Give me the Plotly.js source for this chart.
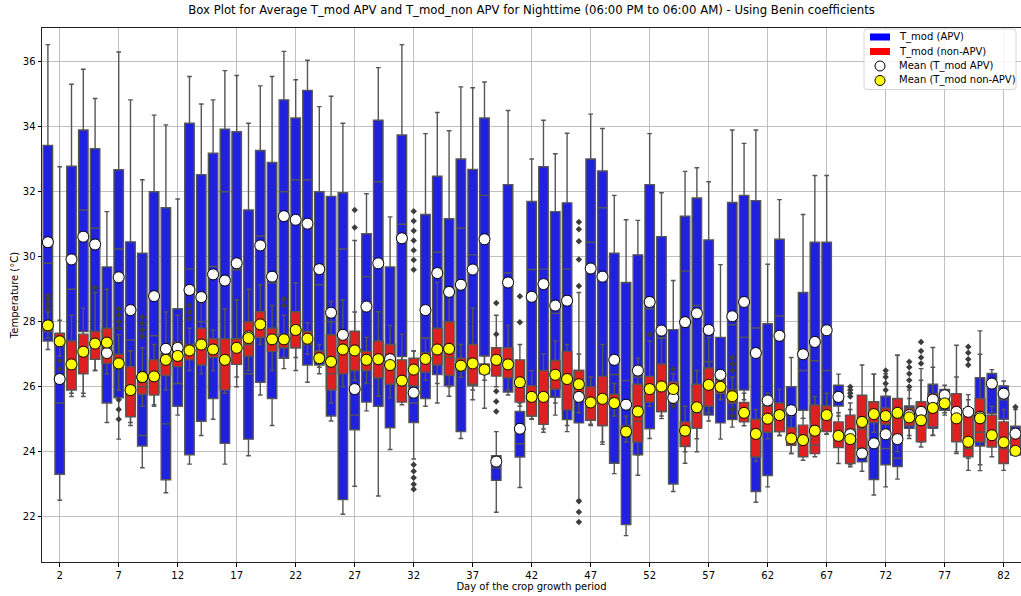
<!DOCTYPE html>
<html>
<head>
<meta charset="utf-8">
<script src="https://cdn.plot.ly/plotly-3.0.1.min.js"></script>
<style>html,body{margin:0;padding:0;background:#fff;}#chart{width:1021px;height:596px;}</style>
</head>
<body>
<div id="chart"></div>
<script>
// Day of the crop growth period
const days = Array.from({length: 83}, (_, i) => i + 1);

// T_mod APV (blue) box statistics per day
const apvLow  = [27.15,22.51,25.8,25.8,26.5,24.9,24.39,24.81,23.51,25.4,22.74,25.13,23.62,24.5,25.0,23.62,26.0,23.88,25.75,24.81,26.56,26.5,26.14,26.4,24.95,22.08,22.94,25.26,22.64,24.07,25.8,23.78,25.4,25.5,25.71,24.41,25.6,25.34,22.14,25.75,22.9,25.02,24.6,25.13,24.62,22.52,24.81,24.23,23.33,21.42,23.28,24.41,25.02,22.78,23.65,24.0,24.95,24.39,24.76,25.6,22.45,22.92,24.5,23.95,25.03,24.0,24.55,25.1,23.6,23.4,22.67,22.92,23.16,24.41,24.3,24.5,25.13,24.0,23.8,23.42,25.0,24.9,24.0];
const apvQ1   = [27.41,23.31,27.0,27.7,27.7,25.5,25.66,25.3,24.18,25.8,23.14,25.4,23.91,24.94,25.64,24.26,26.69,24.39,26.14,25.64,26.88,27.2,26.67,26.67,25.1,22.53,24.68,25.53,25.4,24.74,26.93,24.9,25.64,26.38,26.03,24.62,26.03,26.95,23.12,25.84,23.84,25.1,25.0,25.68,24.99,24.89,24.97,24.81,23.65,21.76,23.91,24.71,25.24,23.01,24.16,24.73,25.13,24.89,24.99,25.9,22.78,23.27,24.62,24.62,25.28,25.0,25.0,25.41,24.1,23.69,23.15,23.6,23.55,24.72,24.7,24.72,25.28,24.5,24.3,24.18,25.18,25.0,24.15];
const apvMed  = [29.8,25.5,29.0,31.44,30.88,26.9,30.24,27.44,24.5,27.57,24.86,26.1,29.63,28.0,29.7,32.0,29.6,26.4,30.64,29.2,32.0,32.37,32.37,29.14,28.0,30.24,25.13,29.39,32.31,26.5,31.0,25.5,27.5,30.14,28.0,30.88,30.06,31.89,23.5,29.5,24.25,29.61,29.62,28.26,29.62,25.8,30.45,31.51,26.38,26.19,26.3,28.4,27.5,25.5,29.56,28.5,26.77,26.0,27.91,27.52,27.81,25.0,28.18,25.3,26.5,26.8,26.5,25.8,24.4,23.95,24.3,24.1,23.8,25.0,25.1,25.5,25.6,25.1,24.9,25.1,26.2,25.6,24.5];
const apvQ3   = [33.43,27.62,32.79,33.9,33.33,29.69,32.68,30.46,30.11,32.0,31.51,28.4,34.11,32.53,33.19,33.93,33.85,31.44,33.27,32.9,34.83,34.27,35.12,32.0,31.86,31.97,27.4,30.71,34.2,29.69,33.75,26.3,31.3,32.48,31.17,33.01,32.69,34.27,23.88,32.22,25.24,31.7,32.77,31.39,31.66,26.5,33.01,32.64,30.11,29.21,30.06,32.22,30.62,27.76,31.25,31.81,30.52,27.52,31.67,31.89,31.73,27.94,30.54,26.0,28.9,30.45,30.45,26.05,24.7,24.4,25.54,25.71,25.0,25.41,25.5,26.08,25.92,25.6,25.33,26.28,26.41,26.03,24.79];
const apvHigh = [36.53,32.77,35.31,35.77,34.87,31.39,36.3,34.83,32.37,34.36,34.06,31.78,35.55,34.7,34.83,35.73,35.58,34.11,35.26,35.55,36.32,35.45,36.05,34.62,34.94,34.11,30.5,31.94,35.82,31.23,36.53,27.1,33.79,34.44,33.88,35.23,35.2,35.38,24.62,34.5,25.5,33.01,34.2,33.17,33.8,28.9,34.39,33.95,31.89,31.14,31.12,33.79,31.97,29.27,32.63,32.74,32.31,29.76,33.9,33.49,33.9,29.77,31.76,26.9,31.3,32.5,32.5,26.39,25.3,25.0,26.39,26.4,26.97,25.9,26.2,27.21,26.05,26.3,25.76,27.72,26.53,26.18,25.3];
const apvMean = [30.45,26.24,29.92,30.62,30.38,27.04,29.37,28.36,26.3,28.79,27.17,27.2,28.98,28.76,29.46,29.27,29.8,27.55,30.35,29.39,31.25,31.14,31.02,29.62,28.28,27.6,25.93,28.47,29.8,26.85,30.57,25.82,28.36,29.5,28.92,29.14,29.61,30.54,23.7,29.21,24.71,28.77,29.16,28.5,28.65,25.69,29.64,29.39,26.83,25.45,26.5,28.61,27.73,25.66,27.99,28.26,27.75,26.37,28.17,28.61,27.04,25.58,27.57,25.28,27.0,27.38,27.74,25.69,24.54,23.95,24.26,24.54,24.39,25.13,25.23,25.61,25.74,25.23,25.23,25.08,26.1,25.79,24.56];

// T_mod non-APV (red) box statistics per day
const nonLow  = [27.5,26.95,25.7,25.7,26.5,26.4,25.9,24.9,25.4,25.45,25.9,26.1,26.5,26.4,26.5,25.8,26.3,26.5,27.3,26.5,26.9,26.9,27.0,26.6,25.5,26.0,26.2,26.1,25.71,25.66,25.45,26.0,26.2,26.1,26.0,26.3,25.9,26.2,26.0,25.9,25.4,25.0,24.7,25.5,24.81,25.2,24.85,24.3,25.1,24.3,23.9,25.4,25.1,25.5,24.0,24.4,25.2,25.6,25.3,24.8,23.7,24.4,24.5,23.95,23.74,23.85,24.54,23.64,23.54,23.8,24.6,24.6,24.0,24.5,24.15,24.51,25.2,23.95,23.43,23.6,23.85,23.43,23.9];
const nonQ1   = [27.7,27.25,25.9,26.4,26.85,26.72,26.56,25.08,25.77,25.75,26.35,26.62,26.83,26.67,26.91,25.9,26.69,26.95,27.52,27.09,27.2,27.2,27.3,26.75,25.9,26.4,26.5,26.5,26.28,26.08,25.53,26.03,26.45,26.67,26.35,26.5,26.08,26.4,26.33,26.28,25.53,25.1,24.85,25.93,25.29,25.71,24.97,24.81,25.45,24.5,24.3,25.53,25.24,25.7,24.17,24.73,25.4,25.8,25.5,24.92,23.84,24.6,24.62,24.2,23.85,23.95,24.62,24.13,23.64,24.1,24.9,24.85,24.5,24.8,24.31,24.77,25.35,24.31,23.85,24.3,24.15,23.64,23.9];
const nonMed  = [27.85,27.45,26.7,27.1,27.3,27.2,26.8,25.9,26.0,26.3,26.8,26.9,27.1,27.2,27.2,26.8,27.1,27.3,27.9,27.4,27.45,27.7,27.5,26.9,26.4,27.1,27.0,26.8,26.8,26.7,26.2,26.5,26.8,27.1,26.9,26.7,26.8,26.55,26.8,26.7,26.1,25.6,25.6,26.3,26.2,26.1,25.5,25.6,25.6,24.6,24.94,25.9,26.0,25.9,24.5,25.2,26.1,26.0,25.7,25.2,24.5,25.0,25.1,24.4,24.3,24.2,25.0,24.45,24.3,24.7,25.15,25.1,25.1,25.05,24.9,25.4,25.5,25.0,24.1,24.6,24.5,24.1,24.05];
const nonQ3   = [28.0,27.65,27.41,27.62,27.7,27.8,27.0,26.62,26.14,26.83,27.0,27.38,27.3,27.8,27.48,27.48,27.48,28.0,28.31,27.8,27.62,28.31,27.7,27.1,27.6,27.48,27.71,27.09,27.41,27.3,26.83,26.88,27.06,27.8,28.0,26.88,27.3,26.7,27.2,27.2,26.83,26.03,26.5,26.81,27.09,26.5,26.0,26.32,25.77,24.8,26.08,26.32,26.7,26.15,24.92,26.08,26.58,26.2,25.9,25.52,25.0,25.4,25.5,24.75,24.82,25.44,25.41,24.92,25.13,25.74,25.54,25.35,25.64,25.35,25.54,25.79,25.65,25.79,25.13,25.64,25.13,24.92,24.6];
const nonHigh = [28.3,28.05,28.2,28.42,28.9,29.0,27.6,27.1,27.2,27.3,28.3,28.2,27.8,28.6,27.75,28.4,28.68,29.0,29.14,28.5,28.2,29.2,27.97,27.3,28.63,28.68,28.3,27.52,28.31,27.89,27.62,27.1,27.5,29.21,28.9,27.3,28.42,26.95,28.2,27.89,27.3,26.5,27.01,27.41,27.3,27.01,26.3,27.3,26.1,25.1,26.88,27.41,27.5,26.4,25.4,26.5,27.52,26.5,26.3,25.8,25.3,25.8,25.93,25.1,25.03,25.7,25.8,25.2,25.5,26.67,26.39,25.7,26.97,25.64,26.56,26.6,25.9,27.28,25.6,27.0,25.4,25.3,24.77];
const nonMean = [27.89,27.4,26.69,27.08,27.33,27.36,26.72,25.9,26.3,26.32,26.83,26.95,27.12,27.3,27.15,26.83,27.2,27.5,27.92,27.46,27.46,27.75,27.48,26.88,26.77,27.15,27.12,26.83,26.85,26.67,26.19,26.53,26.86,27.15,27.17,26.65,26.72,26.53,26.83,26.69,26.14,25.69,25.69,26.37,26.24,26.08,25.52,25.63,25.5,24.62,25.24,25.93,26.01,25.93,24.65,25.37,26.06,26.0,25.71,25.2,24.55,25.02,25.13,24.41,24.36,24.65,25.13,24.49,24.39,24.92,25.16,25.1,25.2,25.06,24.97,25.35,25.49,25.03,24.31,25.03,24.51,24.29,24.03];

// Outliers (day, value)
const flierDays = [1,1,1,1, 2,2, 5, 7,7,7,7,7,7,7, 9,9,9,9, 13,13,13, 21,21, 27,27,
  32,32,32,32,32,32,32,32,32,32,32,32, 39,39,39,39,39, 41,41,
  46,46,46,46,46,46,46,46, 52, 54,54, 59,59,59,59,59,
  69,69,69,69, 72,72,72,72, 74,74,74,74,74, 75,75,75,75, 79,79,79,79, 83];
const flierVals = [28.4,28.55,28.7,28.8, 26.8,26.55, 29.05, 28.4,28.2,28.0,27.8,25.6,25.3,25.0, 28.15,27.95,27.75,27.55, 28.1,28.3,28.5, 28.5,28.7, 30.9,31.44,
  29.6,29.9,30.2,30.5,30.8,31.1,31.4,23.6,23.4,23.2,23.0,22.85, 28.58,27.62,25.86,25.55,25.24, 28.79,27.99,
  31.07,30.85,30.48,29.92,29.1,22.48,22.15,21.84, 27.62, 26.55,25.4, 26.9,26.7,26.5,25.3,25.1,
  25.7,25.8,25.9,26.0, 25.9,26.1,26.3,26.5, 26.0,26.2,26.4,26.6,26.77, 26.72,26.9,27.1,27.38, 26.67,26.85,27.05,27.23, 25.38];

const xTicks = [2,7,12,17,22,27,32,37,42,47,52,57,62,67,72,77,82];
const yTicks = [22,24,26,28,30,32,34,36];

// Legend entries
const legendLabels = ['T_mod (APV)', 'T_mod (non-APV)', 'Mean (T_mod APV)', 'Mean (T_mod non-APV)'];
const legendKinds  = ['patch', 'patch', 'circle', 'circle'];
const legendColors = ['blue', 'red', 'white', 'yellow'];

const BLUE = '#2020df', RED = '#df2020', EDGE = '#555555';
const boxCommon = {type: 'box', x: days, width: 0.8, whiskerwidth: 0.5, boxpoints: false,
  line: {color: EDGE, width: 1.4}, showlegend: false, hoverinfo: 'skip'};

const traces = [
  Object.assign({}, boxCommon, {name: 'T_mod (APV)', q1: apvQ1, median: apvMed, q3: apvQ3,
    lowerfence: apvLow, upperfence: apvHigh, fillcolor: BLUE}),
  Object.assign({}, boxCommon, {name: 'T_mod (non-APV)', q1: nonQ1, median: nonMed, q3: nonQ3,
    lowerfence: nonLow, upperfence: nonHigh, fillcolor: RED}),
  {type: 'scatter', mode: 'markers', x: flierDays, y: flierVals, showlegend: false, hoverinfo: 'skip',
    marker: {symbol: 'diamond', size: 5, color: '#3d3d3d'}},
  {type: 'scatter', mode: 'markers', x: days, y: apvMean, name: 'Mean (T_mod APV)', showlegend: false,
    marker: {size: 11, color: 'white', line: {color: 'black', width: 1}}},
  {type: 'scatter', mode: 'markers', x: days, y: nonMean, name: 'Mean (T_mod non-APV)', showlegend: false,
    marker: {size: 11, color: 'yellow', line: {color: 'black', width: 1}}}
];

// Plot area geometry (pixels) used to place the hand-built legend
const PL = 42, PW = 979, PT = 28, PH = 534;
const px = v => (v - PL) / PW;
const py = v => (PT + PH - v) / PH;

const shapes = [];
const annotations = [];
// legend frame with slightly rounded corners
(function () {
  const x0 = px(864), x1 = px(1016), y0 = py(89.5), y1 = py(29);
  const rx = 3 / PW, ry = 3 / PH;
  const path = `M ${x0 + rx},${y0} L ${x1 - rx},${y0} Q ${x1},${y0} ${x1},${y0 + ry} L ${x1},${y1 - ry} Q ${x1},${y1} ${x1 - rx},${y1} ` +
    `L ${x0 + rx},${y1} Q ${x0},${y1} ${x0},${y1 - ry} L ${x0},${y0 + ry} Q ${x0},${y0} ${x0 + rx},${y0} Z`;
  shapes.push({type: 'path', xref: 'paper', yref: 'paper', path: path, layer: 'above',
    fillcolor: 'rgba(255,255,255,0.85)', line: {color: '#d4d4d4', width: 1}});
})();
legendLabels.forEach((lab, i) => {
  const cy = 37 + i * 14.5;
  if (legendKinds[i] === 'patch') {
    shapes.push({type: 'rect', xref: 'paper', yref: 'paper', layer: 'above',
      x0: px(870), x1: px(890), y0: py(cy + 3.5), y1: py(cy - 3.5),
      fillcolor: legendColors[i], line: {width: 0}});
  } else {
    shapes.push({type: 'circle', xref: 'paper', yref: 'paper', layer: 'above',
      xsizemode: 'pixel', ysizemode: 'pixel', xanchor: px(880), yanchor: py(cy),
      x0: -5, x1: 5, y0: -5, y1: 5, fillcolor: legendColors[i], line: {color: 'black', width: 1}});
  }
  annotations.push({xref: 'paper', yref: 'paper', x: px(897), y: py(cy), xanchor: 'left', yanchor: 'middle',
    text: lab, showarrow: false, font: {size: 10, color: 'black'}});
});

const font = 'DejaVu Sans, sans-serif';
const layout = {
  width: 1021, height: 596,
  margin: {l: PL, r: 0, t: PT, b: 596 - PT - PH},
  paper_bgcolor: 'white', plot_bgcolor: 'white',
  font: {family: font, size: 10, color: 'black'},
  showlegend: false,
  title: {text: 'Box Plot for Average T_mod APV and T_mod_non APV for Nighttime (06:00 PM to 06:00 AM) - Using Benin coefficients',
    font: {family: font, size: 11.7, color: 'black'}, xref: 'container', x: 0.5206, xanchor: 'center',
    yref: 'container', y: 0.983, yanchor: 'middle'},
  boxmode: 'overlay',
  xaxis: {range: [0.5, 83.47], tickvals: xTicks, ticktext: xTicks.map(String), ticks: 'outside', ticklen: 3.5,
    tickcolor: 'black', showgrid: true, gridcolor: '#b0b0b0', gridwidth: 0.8, zeroline: false,
    showline: true, linecolor: '#222', linewidth: 1, mirror: true,
    tickfont: {size: 10}, automargin: false,
    title: {text: 'Day of the crop growth period', font: {size: 10}, standoff: 3}},
  yaxis: {range: [20.61, 37.04], tickvals: yTicks, ticks: 'outside', ticklen: 3.5, tickcolor: 'black',
    showgrid: true, gridcolor: '#b0b0b0', gridwidth: 0.8, zeroline: false,
    showline: true, linecolor: '#222', linewidth: 1, mirror: true,
    tickfont: {size: 10}, automargin: false,
    title: {text: 'Temperature (°C)', font: {size: 10}, standoff: 2}},
  shapes: shapes,
  annotations: annotations
};

Plotly.newPlot('chart', traces, layout, {displayModeBar: false, staticPlot: true});
</script>
</body>
</html>
